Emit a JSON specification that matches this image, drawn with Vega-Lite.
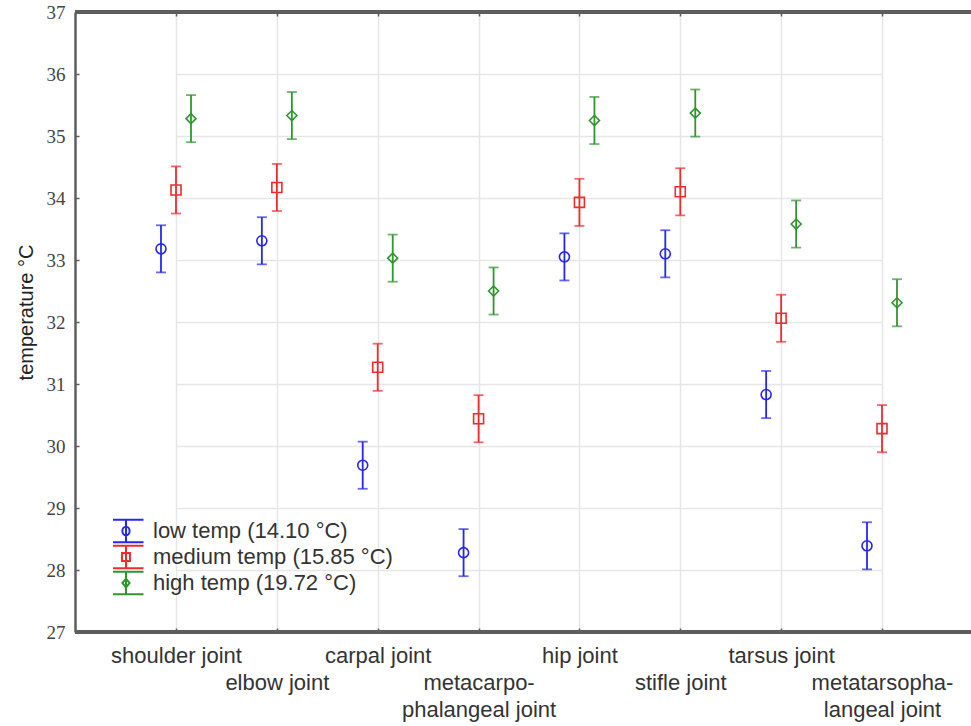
{
  "$schema": "https://vega.github.io/schema/vega-lite/v6.json",
  "width": 896,
  "height": 620,
  "autosize": "none",
  "padding": {"left": 75, "top": 12, "right": 0, "bottom": 94},
  "background": "white",
  "config": {
    "view": {"stroke": null},
    "axis": {
      "domain": true, "domainColor": "#5e5e5e", "domainWidth": 2.5,
      "ticks": true, "tickSize": -4, "tickColor": "#5e5e5e", "tickWidth": 1.5,
      "grid": true, "gridColor": "#e6e6e6", "gridWidth": 1.5
    },
    "axisBottom": {
      "domain": false,
      "labelAngle": 0, "labelFont": "Liberation Sans", "labelFontSize": 22, "labelColor": "#333333",
      "labelPadding": 17, "labelLineHeight": 27, "labelBaseline": "top", "labelOverlap": false, "labelBound": false
    },
    "axisTop": {"labels": false, "grid": false, "domain": false},
    "axisLeft": {
      "format": "d",
      "labelFont": "Liberation Serif", "labelFontSize": 19, "labelColor": "#444444", "labelPadding": 14,
      "titleFont": "Liberation Sans", "titleFontSize": 20, "titleFontWeight": "normal", "titleColor": "#222222",
      "titleX": -43, "titleY": 300, "titleBaseline": "alphabetic", "titleAngle": -90
    },
    "legend": {
      "orient": "none", "legendX": 38, "legendY": 506, "title": null, "padding": 0,
      "symbolSize": 576, "symbolStrokeWidth": 2, "labelFont": "Liberation Sans", "labelFontSize": 22,
      "labelColor": "#333333", "labelOffset": 14, "rowPadding": 0, "clipHeight": 26, "labelLimit": 400
    }
  },
  "data": {"values": [
    {"joint": "shoulder joint", "group": "low temp (14.10 °C)", "mean": 33.18, "lo": 32.80, "hi": 33.56},
    {"joint": "shoulder joint", "group": "medium temp (15.85 °C)", "mean": 34.13, "lo": 33.75, "hi": 34.51},
    {"joint": "shoulder joint", "group": "high temp (19.72 °C)", "mean": 35.28, "lo": 34.90, "hi": 35.66},
    {"joint": "elbow joint", "group": "low temp (14.10 °C)", "mean": 33.31, "lo": 32.93, "hi": 33.69},
    {"joint": "elbow joint", "group": "medium temp (15.85 °C)", "mean": 34.17, "lo": 33.79, "hi": 34.55},
    {"joint": "elbow joint", "group": "high temp (19.72 °C)", "mean": 35.33, "lo": 34.95, "hi": 35.71},
    {"joint": "carpal joint", "group": "low temp (14.10 °C)", "mean": 29.69, "lo": 29.31, "hi": 30.07},
    {"joint": "carpal joint", "group": "medium temp (15.85 °C)", "mean": 31.27, "lo": 30.89, "hi": 31.65},
    {"joint": "carpal joint", "group": "high temp (19.72 °C)", "mean": 33.03, "lo": 32.65, "hi": 33.41},
    {"joint": "metacarpo-phalangeal joint", "group": "low temp (14.10 °C)", "mean": 28.28, "lo": 27.90, "hi": 28.66},
    {"joint": "metacarpo-phalangeal joint", "group": "medium temp (15.85 °C)", "mean": 30.44, "lo": 30.06, "hi": 30.82},
    {"joint": "metacarpo-phalangeal joint", "group": "high temp (19.72 °C)", "mean": 32.50, "lo": 32.12, "hi": 32.88},
    {"joint": "hip joint", "group": "low temp (14.10 °C)", "mean": 33.05, "lo": 32.67, "hi": 33.43},
    {"joint": "hip joint", "group": "medium temp (15.85 °C)", "mean": 33.93, "lo": 33.55, "hi": 34.31},
    {"joint": "hip joint", "group": "high temp (19.72 °C)", "mean": 35.25, "lo": 34.87, "hi": 35.63},
    {"joint": "stifle joint", "group": "low temp (14.10 °C)", "mean": 33.10, "lo": 32.72, "hi": 33.48},
    {"joint": "stifle joint", "group": "medium temp (15.85 °C)", "mean": 34.10, "lo": 33.72, "hi": 34.48},
    {"joint": "stifle joint", "group": "high temp (19.72 °C)", "mean": 35.37, "lo": 34.99, "hi": 35.75},
    {"joint": "tarsus joint", "group": "low temp (14.10 °C)", "mean": 30.83, "lo": 30.45, "hi": 31.21},
    {"joint": "tarsus joint", "group": "medium temp (15.85 °C)", "mean": 32.06, "lo": 31.68, "hi": 32.44},
    {"joint": "tarsus joint", "group": "high temp (19.72 °C)", "mean": 33.58, "lo": 33.20, "hi": 33.96},
    {"joint": "metatarsophalangeal joint", "group": "low temp (14.10 °C)", "mean": 28.39, "lo": 28.01, "hi": 28.77},
    {"joint": "metatarsophalangeal joint", "group": "medium temp (15.85 °C)", "mean": 30.28, "lo": 29.90, "hi": 30.66},
    {"joint": "metatarsophalangeal joint", "group": "high temp (19.72 °C)", "mean": 32.31, "lo": 31.93, "hi": 32.69}
  ]},
  "layer": [
    {
      "mark": {"type": "rule", "strokeWidth": 1.8},
      "encoding": {
        "x": {"field": "joint", "type": "nominal",
          "scale": {"type": "point", "domain": ["shoulder joint", "elbow joint", "carpal joint", "metacarpo-phalangeal joint", "hip joint", "stifle joint", "tarsus joint", "metatarsophalangeal joint"], "range": [101, 807], "padding": 0},
          "axis": {"orient": "bottom", "title": null,
            "labelExpr": "datum.value == 'metacarpo-phalangeal joint' ? [' ', 'metacarpo-', 'phalangeal joint'] : datum.value == 'metatarsophalangeal joint' ? [' ', 'metatarsopha-', 'langeal joint'] : (datum.value == 'elbow joint' || datum.value == 'stifle joint') ? [' ', datum.value] : datum.value"}},
        "xOffset": {"field": "group", "type": "nominal", "scale": {"type": "point", "domain": ["low temp (14.10 °C)", "medium temp (15.85 °C)", "high temp (19.72 °C)"], "range": [-15, 15], "padding": 0}},
        "y": {"field": "lo", "type": "quantitative", "title": "temperature °C",
          "scale": {"domain": [27, 37], "nice": false, "zero": false},
          "axis": {"values": [27, 28, 29, 30, 31, 32, 33, 34, 35, 36, 37]}},
        "y2": {"field": "hi"},
        "color": {"field": "group", "type": "nominal",
          "scale": {"domain": ["low temp (14.10 °C)", "medium temp (15.85 °C)", "high temp (19.72 °C)"], "range": ["#2626f2", "#f22a2a", "#2f962f"]},
          "legend": null}
      }
    },
    {
      "mark": {"type": "tick", "size": 10, "thickness": 1.8},
      "encoding": {
        "x": {"field": "joint", "type": "nominal",
          "scale": {"type": "point", "domain": ["shoulder joint", "elbow joint", "carpal joint", "metacarpo-phalangeal joint", "hip joint", "stifle joint", "tarsus joint", "metatarsophalangeal joint"], "range": [101, 807], "padding": 0},
          "axis": {"orient": "top", "title": null}},
        "xOffset": {"field": "group", "type": "nominal", "scale": {"type": "point", "domain": ["low temp (14.10 °C)", "medium temp (15.85 °C)", "high temp (19.72 °C)"], "range": [-15, 15], "padding": 0}},
        "y": {"field": "lo", "type": "quantitative", "title": "temperature °C"},
        "color": {"field": "group", "type": "nominal", "legend": null}
      }
    },
    {
      "mark": {"type": "tick", "size": 10, "thickness": 1.8},
      "encoding": {
        "x": {"field": "joint", "type": "nominal",
          "scale": {"type": "point", "domain": ["shoulder joint", "elbow joint", "carpal joint", "metacarpo-phalangeal joint", "hip joint", "stifle joint", "tarsus joint", "metatarsophalangeal joint"], "range": [101, 807], "padding": 0},
          "axis": null},
        "xOffset": {"field": "group", "type": "nominal", "scale": {"type": "point", "domain": ["low temp (14.10 °C)", "medium temp (15.85 °C)", "high temp (19.72 °C)"], "range": [-15, 15], "padding": 0}},
        "y": {"field": "hi", "type": "quantitative", "title": "temperature °C"},
        "color": {"field": "group", "type": "nominal", "legend": null}
      }
    },
    {
      "mark": {"type": "point", "filled": false, "strokeWidth": 1.6, "size": 100, "opacity": 1},
      "encoding": {
        "x": {"field": "joint", "type": "nominal",
          "scale": {"type": "point", "domain": ["shoulder joint", "elbow joint", "carpal joint", "metacarpo-phalangeal joint", "hip joint", "stifle joint", "tarsus joint", "metatarsophalangeal joint"], "range": [101, 807], "padding": 0},
          "axis": null},
        "xOffset": {"field": "group", "type": "nominal", "scale": {"type": "point", "domain": ["low temp (14.10 °C)", "medium temp (15.85 °C)", "high temp (19.72 °C)"], "range": [-15, 15], "padding": 0}},
        "y": {"field": "mean", "type": "quantitative", "title": "temperature °C"},
        "color": {"field": "group", "type": "nominal", "legend": null},
        "shape": {"field": "group", "type": "nominal",
          "scale": {"domain": ["low temp (14.10 °C)", "medium temp (15.85 °C)", "high temp (19.72 °C)"], "range": ["circle", "square", "diamond"]},
          "legend": null}
      }
    },
    {
      "mark": {"type": "rule", "color": "#5e5e5e", "strokeWidth": 2.5},
      "encoding": {"y": {"datum": 37, "type": "quantitative", "title": "temperature °C"}}
    },
    {
      "mark": {"type": "rule", "color": "#5e5e5e", "strokeWidth": 2.5},
      "encoding": {"y": {"datum": 27, "type": "quantitative", "title": "temperature °C"}}
    },
    {
      "transform": [{"filter": "false"}],
      "mark": {"type": "point", "filled": false, "strokeWidth": 2, "opacity": 1},
      "encoding": {
        "color": {"field": "group", "type": "nominal", "legend": {}},
        "shape": {"field": "group", "type": "nominal",
          "scale": {"domain": ["low temp (14.10 °C)", "medium temp (15.85 °C)", "high temp (19.72 °C)"],
            "range": [
              "M-1.46,-0.94H1.46M-1.46,0.94H1.46M0,-0.94V0.94M0.3,0A0.3,0.36 0 1,0 -0.3,0A0.3,0.36 0 1,0 0.3,0",
              "M-1.46,-0.94H1.46M-1.46,0.94H1.46M0,-0.94V0.94M-0.33,-0.33H0.33V0.33H-0.33Z",
              "M-1.46,-0.94H1.46M-1.46,0.94H1.46M0,-0.94V0.94M0,-0.36L0.3,0L0,0.36L-0.3,0Z"
            ]},
          "legend": {}}
      }
    }
  ],
  "resolve": {
    "scale": {"shape": "independent"},
    "axis": {"x": "independent"},
    "legend": {"color": "independent", "shape": "independent"}
  }
}
